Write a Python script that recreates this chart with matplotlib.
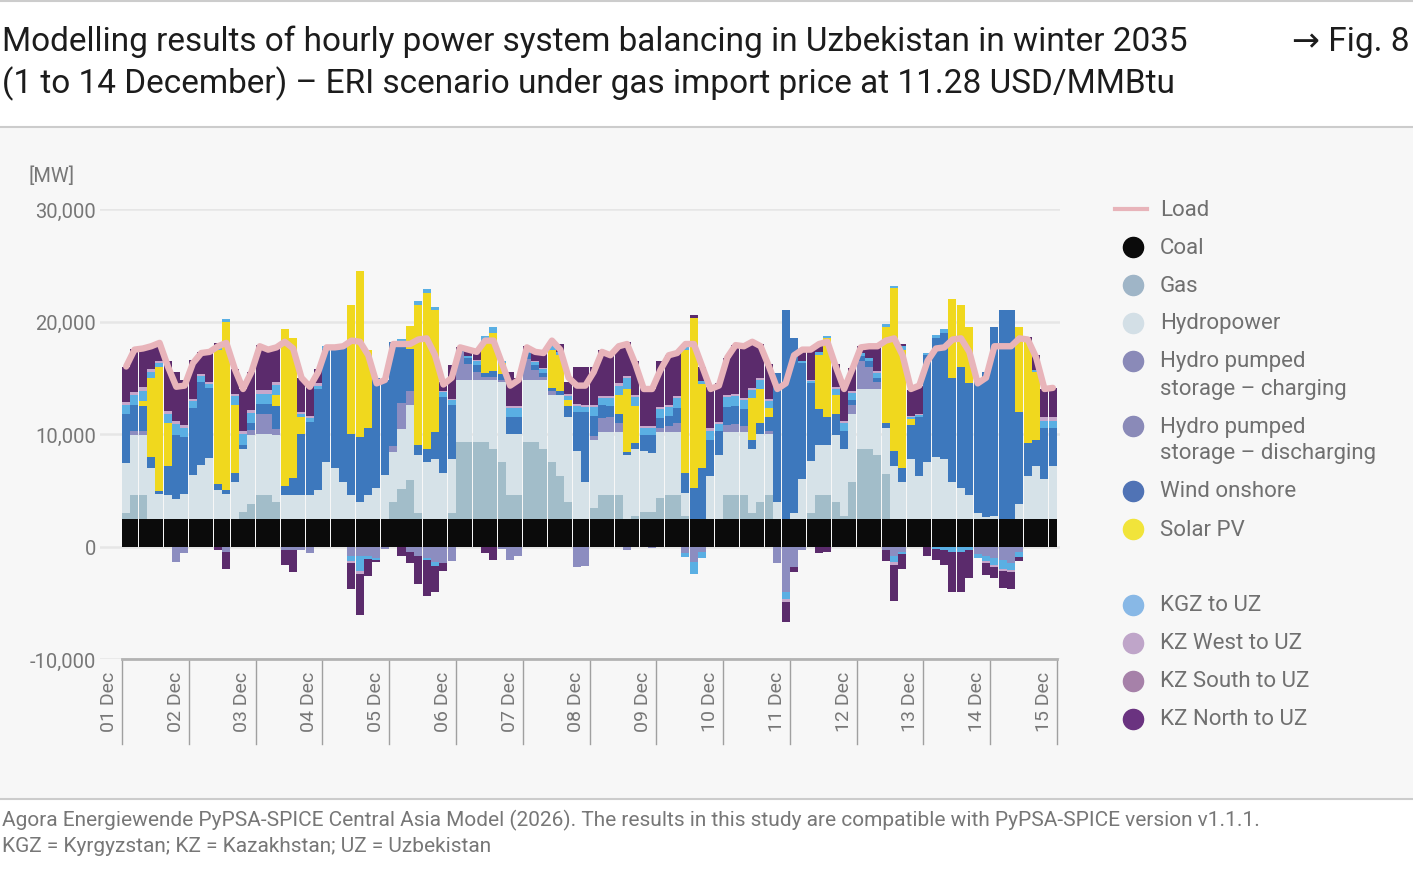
import numpy as np
import matplotlib.pyplot as plt
from matplotlib.lines import Line2D
from matplotlib.patches import Rectangle

plt.rcParams['font.family'] = ['Roboto', 'DejaVu Sans']

# Values at 3-hour steps (8 per day, 01-14 Dec), in GW (x1000 = MW)
coal_gw = 2.45

gas = [0.5, 2.1, 2.1, 0, 0, 0, 0, 0,
       0, 0, 0, 0, 0, 0, 0.6, 1.3,
       2.1, 2.1, 1.5, 0, 0, 0, 0, 0,
       0, 0, 0, 0, 0, 0, 0, 0,
       1.5, 2.7, 3.5, 0.5, 0, 0, 0, 0.5,
       6.85, 6.85, 6.85, 6.85, 6.25, 5.05, 2.15, 2.15,
       6.85, 6.85, 6.25, 5.05, 3.85, 1.5, 0, 0,
       1.0, 2.15, 2.15, 2.15, 0, 0.3, 0.6, 0.6,
       1.85, 2.15, 2.15, 0.3, 0, 0, 0, 0,
       2.15, 2.15, 2.15, 0.5, 1.5, 2.15, 0, 0,
       0, 0, 0.5, 2.15, 2.15, 1.5, 0.3, 3.3,
       6.25, 6.25, 5.65, 4.0, 0, 0, 0, 0,
       0, 0, 0, 0, 0, 0, 0, 0,
       0, 0, 0, 0, 0, 0, 0, 0]

hydro = [4.5, 5.4, 5.4, 4.5, 2.25, 2.1, 1.8, 2.25,
         3.9, 4.8, 5.4, 2.55, 2.25, 3.3, 5.65, 6.15,
         5.45, 5.45, 6.0, 2.15, 2.15, 2.15, 2.15, 2.55,
         5.05, 4.5, 3.3, 2.15, 1.55, 2.15, 2.75, 3.9,
         4.45, 5.3, 6.65, 5.15, 5.05, 5.35, 4.05, 4.85,
         5.5, 5.5, 5.5, 5.5, 6.1, 7.1, 5.4, 5.4,
         5.5, 5.5, 6.1, 6.0, 7.2, 7.55, 6.05, 3.25,
         6.05, 5.6, 5.6, 5.6, 5.65, 5.95, 5.4, 5.25,
         5.9, 5.6, 5.6, 2.0, 0, 0, 3.85, 5.65,
         5.6, 5.6, 5.6, 5.75, 6.05, 5.4, 1.5, 0,
         0.5, 3.55, 4.65, 4.4, 4.4, 5.95, 5.95, 6.0,
         5.3, 5.3, 5.9, 4.05, 4.75, 3.25, 5.35, 3.85,
         5.05, 5.55, 5.35, 3.25, 2.75, 2.15, 0.5, 0.2,
         0.3, 0, 0, 1.3, 3.85, 4.75, 3.55, 4.75]

ps_discharge = [0, 0.3, 0.3, 0, 0, 0, 0, 0,
                0, 0, 0, 0, 0, 0, 0, 0.5,
                1.8, 1.8, 0.5, 0, 0, 0, 0, 0,
                0, 0, 0, 0, 0, 0, 0, 0,
                0.5, 2.3, 1.2, 0, 0, 0, 0, 0,
                2.5, 1.4, 0.7, 0.3, 0.3, 0.2, 0, 0,
                1.9, 0.9, 0.3, 0.3, 0, 0, 0, 0,
                0.3, 1.2, 1.3, 0.8, 0, 0, 0, 0,
                0.3, 0.5, 0.8, 0, 0, 0, 0, 0,
                0.6, 0.7, 0.5, 0, 0, 0.3, 0, 0,
                0, 0, 0, 0, 0, 0, 0, 0.8,
                2.5, 2.0, 0.6, 0, 0, 0, 0, 0,
                0, 0, 0, 0, 0, 0, 0, 0,
                0, 0, 0, 0, 0, 0, 0, 0]

wind = [4.3, 2.3, 2.2, 1.0, 0.2, 2.6, 5.7, 5.0,
        6.0, 7.4, 6.2, 0.6, 0.3, 0.8, 0.3, 0.6,
        0.9, 0.9, 2.0, 0.8, 1.5, 5.4, 6.5, 9.0,
        10.1, 10.7, 12.0, 5.4, 5.7, 5.9, 9.8, 8.45,
        9.3, 5.4, 3.8, 0.9, 1.2, 2.4, 6.8, 4.8,
        0.3, 0.6, 0.6, 0.3, 0.5, 0.5, 1.5, 1.5,
        0.5, 0.4, 0.3, 0.3, 0.3, 1.0, 3.5, 6.3,
        1.8, 1.2, 1.0, 0.8, 0.3, 0.5, 1.5, 1.6,
        0.9, 0.9, 1.3, 1.75, 2.75, 4.5, 3.2, 2.2,
        1.6, 1.6, 1.5, 0.8, 1.0, 1.2, 11.5, 18.55,
        15.55, 10.3, 6.9, 3.2, 2.5, 1.9, 1.6, 0.5,
        0.4, 0.5, 0.4, 0.5, 1.3, 1.3, 3.0, 5.2,
        9.5, 10.5, 11.2, 9.3, 10.8, 9.9, 12.05, 12.85,
        16.75, 18.55, 18.55, 8.25, 2.9, 2.3, 4.5, 3.3]

solar = [0, 0, 0.5, 7.0, 11.1, 3.8, 0, 0,
         0, 0, 0, 11.9, 15.0, 6.0, 0, 0,
         0, 0, 1.0, 13.9, 12.4, 1.5, 0, 0,
         0, 0, 0, 11.5, 14.8, 7.0, 0, 0,
         0, 0, 2.0, 12.5, 13.8, 10.8, 0, 0,
         0, 0, 0, 2.9, 3.4, 1.0, 0, 0,
         0, 0, 0, 3.4, 3.2, 0.5, 0, 0,
         0, 0, 0, 1.7, 5.6, 3.3, 0, 0,
         0, 0, 0, 11.0, 15.1, 7.5, 0, 0,
         0, 0, 0, 3.7, 3.0, 0.8, 0, 0,
         0, 0, 0, 4.8, 7.0, 1.7, 0, 0,
         0, 0, 0, 8.5, 14.5, 10.5, 0.5, 0,
         0, 0, 0, 7.0, 5.5, 5.0, 0, 0,
         0, 0, 0, 7.5, 9.0, 6.0, 0, 0]

kgz_in = [0.8, 0.9, 0.9, 0.6, 0.3, 0.8, 0.9, 0.8,
          0.6, 0.5, 0.4, 0.3, 0.2, 0.8, 1.0, 0.9,
          0.9, 0.9, 0.9, 0, 0, 0.3, 0.3, 0.3,
          0.2, 0.1, 0, 0, 0, 0, 0, 0,
          0, 0.3, 0, 0.3, 0.4, 0.3, 0.4, 0.4,
          0, 0.1, 0.4, 0.4, 0.5, 0.2, 0.8, 0.8,
          0.2, 0.3, 0.4, 0.3, 0.3, 0.4, 0.5, 0.4,
          0.8, 0.6, 0.7, 0.8, 1.0, 0.8, 0.6, 0.6,
          0.8, 0.8, 0.9, 0.3, 0, 0.3, 0.8, 0.6,
          0.9, 0.9, 0.8, 0.7, 0.8, 0.6, 0, 0,
          0, 0.2, 0.2, 0.3, 0.2, 0.5, 0.7, 0.6,
          0.3, 0.3, 0.4, 0.3, 0.2, 0.3, 0.2, 0.2,
          0.2, 0.3, 0.3, 0, 0, 0, 0, 0,
          0, 0, 0, 0, 0, 0.2, 0.7, 0.7]

kzw_in = [0.3, 0.3, 0.3, 0.2, 0.2, 0.3, 0.3, 0.3,
          0.2, 0.2, 0.2, 0.1, 0, 0.2, 0.3, 0.2,
          0.3, 0.3, 0.3, 0, 0, 0.2, 0.2, 0.2,
          0, 0, 0, 0, 0, 0, 0, 0,
          0, 0, 0, 0, 0, 0, 0.1, 0.1,
          0, 0, 0.1, 0, 0, 0, 0.2, 0.2,
          0, 0.1, 0.1, 0, 0, 0.2, 0.2, 0.2,
          0.2, 0.2, 0.2, 0.2, 0.2, 0.2, 0.2, 0.2,
          0.2, 0.2, 0.2, 0, 0, 0, 0.2, 0.2,
          0.2, 0.2, 0.2, 0.2, 0.2, 0.2, 0, 0,
          0, 0, 0.1, 0, 0, 0.2, 0.2, 0.2,
          0, 0, 0.2, 0, 0, 0, 0.1, 0.1,
          0, 0, 0, 0, 0, 0, 0, 0,
          0, 0, 0, 0, 0, 0, 0.3, 0.3]

kzn_in = [3.1, 3.8, 3.45, 2.1, 1.5, 4.4, 4.4, 4.0,
          3.4, 1.9, 2.7, 0.2, 0, 2.2, 3.7, 3.4,
          4.0, 3.6, 3.0, 0, 0, 3.0, 2.7, 1.3,
          0, 0, 0, 0, 0, 0, 0, 0,
          0, 0, 0, 0, 0, 0, 0.8, 3.0,
          0.1, 0.7, 0.9, 0, 0, 0, 3.0, 2.5,
          0.4, 1.0, 1.4, 0.5, 0.7, 1.0, 3.3, 3.4,
          3.4, 4.1, 3.6, 3.3, 3.0, 3.0, 3.4, 3.3,
          4.1, 4.4, 3.8, 0.2, 0.3, 1.25, 3.7, 3.4,
          3.3, 4.3, 4.6, 3.9, 3.0, 3.1, 0, 0,
          0, 1.0, 2.7, 0.6, 0, 2.0, 3.0, 2.0,
          0.6, 0.9, 2.2, 0, 0, 0.2, 2.3, 2.5,
          0, 0, 0, 0, 0, 0, 0, 0,
          0, 0, 0, 0, 0.4, 1.3, 2.5, 2.6]

# exports / pumping (negative side)
ps_charge = [0, 0, 0, 0, 0, 0, -1.4, -0.6,
             0, 0, 0, 0, -0.5, 0, 0, 0,
             0, 0, 0, -0.3, -0.3, -0.3, -0.6, 0,
             0, 0, 0, -0.8, -0.8, -0.8, -1.0, -0.2,
             0, 0, -0.5, -0.8, -1.0, -1.4, -1.5, -1.3,
             0, 0, 0, 0, 0, -0.2, -1.2, -0.8,
             0, 0, 0, 0, 0, 0, -1.8, -1.7,
             0, 0, 0, 0, -0.3, 0, 0, -0.1,
             0, 0, 0, -0.6, -1.4, -0.5, 0, 0,
             0, 0, 0, 0, 0, 0, -1.5, -4.0,
             -1.8, -0.3, 0, 0, 0, 0, 0, 0,
             0, 0, 0, -0.3, -0.8, -0.5, 0, 0,
             0, 0, 0, 0, 0, 0, -0.7, -0.8,
             -1.0, -1.2, -1.5, -0.5, 0, 0, 0, 0]

kgz_out = [0, 0, 0, 0, 0, 0, 0, 0,
           0, 0, 0, 0, 0, 0, 0, 0,
           0, 0, 0, 0, 0, 0, 0, 0,
           0, 0, 0, -0.5, -1.4, -0.3, -0.2, 0,
           0, 0, 0, 0, -0.2, -0.3, 0, 0,
           0, 0, 0, 0, 0, 0, 0, 0,
           0, 0, 0, 0, 0, 0, 0, 0,
           0, 0, 0, 0, 0, 0, 0, 0,
           0, 0, 0, -0.3, -1.0, -0.5, 0, 0,
           0, 0, 0, 0, 0, 0, 0, -0.7,
           0, 0, 0, 0, 0, 0, 0, 0,
           0, 0, 0, 0, -0.6, -0.2, 0, 0,
           0, -0.2, -0.3, -0.5, -0.5, -0.3, -0.3, -0.5,
           -0.6, -0.8, -0.6, -0.4, 0, 0, 0, 0]

kzw_out = [0, 0, 0, 0, 0, 0, 0, 0,
           0, 0, 0, 0, 0, 0, 0, 0,
           0, 0, 0, 0, 0, 0, 0, 0,
           0, 0, 0, -0.2, -0.2, 0, 0, 0,
           0, 0, 0, 0, 0, 0, 0, 0,
           0, 0, 0, 0, 0, 0, 0, 0,
           0, 0, 0, 0, 0, 0, 0, 0,
           0, 0, 0, 0, 0, 0, 0, 0,
           0, 0, 0, 0, 0, 0, 0, 0,
           0, 0, 0, 0, 0, 0, 0, -0.2,
           0, 0, 0, 0, 0, 0, 0, 0,
           0, 0, 0, 0, -0.2, 0, 0, 0,
           0, 0, 0, 0, 0, 0, 0, -0.2,
           -0.2, -0.2, -0.2, 0, 0, 0, 0, 0]

kzn_out = [0, 0, 0, 0, 0, 0, 0, 0,
           0, 0, 0, -0.3, -1.5, 0, 0, 0,
           0, 0, 0, -1.3, -2.0, 0, 0, 0,
           0, 0, 0, -2.3, -3.7, -1.5, -0.2, 0,
           0, -0.8, -1.0, -2.5, -3.2, -2.3, -0.7, 0,
           0, 0, 0, -0.6, -1.2, 0, 0, 0,
           0, 0, 0, 0, 0, 0, 0, 0,
           0, 0, 0, 0, 0, 0, 0, 0,
           0, 0, 0, 0, 0, 0, 0, 0,
           0, 0, 0, 0, 0, 0, 0, -1.8,
           -0.5, 0, 0, -0.6, -0.5, 0, 0, 0,
           0, 0, 0, -1.0, -3.2, -1.3, 0, 0,
           -0.8, -1.0, -1.3, -3.5, -3.5, -2.5, 0, -1.0,
           -1.0, -1.5, -1.5, -0.4, 0, 0, 0, 0]

load = [16.0, 17.5, 17.6, 17.8, 18.1, 16.0, 14.2, 14.3,
        16.3, 17.2, 17.3, 17.8, 18.1, 15.8, 14.0, 15.5,
        17.8, 17.5, 17.7, 18.2, 17.6, 15.0, 14.2, 15.5,
        17.7, 17.7, 17.8, 18.3, 18.2, 17.0, 14.5, 14.8,
        18.0, 18.0, 18.0, 18.4, 18.5, 17.0, 14.4, 15.0,
        17.7, 17.5, 17.3, 18.3, 18.3, 16.3, 14.3, 14.8,
        17.7, 17.3, 17.2, 18.3, 17.5, 15.0, 14.3, 14.3,
        15.5, 17.3, 17.0, 17.8, 18.0, 16.2, 14.0, 14.0,
        15.7, 17.0, 17.2, 18.0, 18.0, 16.0, 14.0, 14.3,
        16.8, 17.9, 17.8, 18.2, 17.8, 16.0, 14.0, 14.5,
        17.0, 17.5, 17.5, 18.0, 18.2, 16.0, 14.0, 15.8,
        17.7, 17.8, 17.8, 18.3, 18.5, 17.0, 14.0, 14.3,
        16.5, 17.6, 17.7, 18.4, 18.5, 17.3, 14.5, 15.0,
        17.8, 17.8, 17.8, 18.5, 18.4, 16.8, 14.0, 14.1]

days = ['01 Dec', '02 Dec', '03 Dec', '04 Dec', '05 Dec', '06 Dec', '07 Dec', '08 Dec',
        '09 Dec', '10 Dec', '11 Dec', '12 Dec', '13 Dec', '14 Dec', '15 Dec']

colors = {
    'Load': '#e8b4ba', 'Coal': '#0b0b0b', 'Gas': '#a2bdc9', 'Hydropower': '#d6e2e8',
    'PS': '#8c8dc0', 'Wind': '#3d78bd', 'Solar': '#f0d81e', 'KGZ': '#5aafe3',
    'KZW': '#c7a7cb', 'KZS': '#a681a9', 'KZN': '#5b2b6c',
}

n = len(load)
start = np.arange(n) * 3  # hours from 01 Dec 00:00
coal = np.full(n, coal_gw)

W, H = 1413, 870
def fx(px):
    return px / W
def fy(py):
    return 1 - py / H

fig = plt.figure(figsize=(W / 100, H / 100), dpi=100, facecolor='white')
fig.patches.append(Rectangle((0, fy(800)), 1, fy(128) - fy(800), transform=fig.transFigure,
                             facecolor='#f7f7f7', edgecolor='none', zorder=-10))
for yy in (2, 128, 800):
    fig.add_artist(Line2D([0, 1], [fy(yy)] * 2, transform=fig.transFigure, color='#cccccc', lw=1.5))

ax = fig.add_axes([fx(100), fy(660), fx(1060) - fx(100), fy(210) - fy(660)])
ax.set_zorder(1)
ax.set_facecolor('none')
px_per_h = (1057 - 122) / 336
ax.set_xlim(-22 / px_per_h, 336 + 3 / px_per_h)
ax.set_ylim(-10000, 30000)

# positive stack
pos_layers = [(coal, colors['Coal']), (gas, colors['Gas']), (hydro, colors['Hydropower']),
              (ps_discharge, colors['PS']), (wind, colors['Wind']), (solar, colors['Solar']),
              (kgz_in, colors['KGZ']), (kzw_in, colors['KZW']), (kzn_in, colors['KZN'])]
bottom = np.zeros(n)
for vals, col in pos_layers:
    v = np.asarray(vals, dtype=float) * 1000
    ax.bar(start, v, width=2.88, bottom=bottom, align='edge', color=col, linewidth=0, zorder=2)
    bottom += v

# negative stack
neg_layers = [(ps_charge, colors['PS']), (kgz_out, colors['KGZ']),
              (kzw_out, colors['KZW']), (kzn_out, colors['KZN'])]
nbottom = np.zeros(n)
for vals, col in neg_layers:
    v = np.asarray(vals, dtype=float) * 1000
    ax.bar(start, v, width=2.88, bottom=nbottom, align='edge', color=col, linewidth=0, zorder=2)
    nbottom += v

ax.plot(start + 1.5, np.asarray(load) * 1000, color=colors['Load'], lw=4.6,
        solid_joinstyle='round', solid_capstyle='round', zorder=5)

# axes styling
for s in ax.spines.values():
    s.set_visible(False)
yt = [-10000, 0, 10000, 20000, 30000]
ax.set_yticks(yt)
ax.set_yticklabels([f'{v:,}' for v in yt])
ax.tick_params(axis='y', length=0, pad=3, labelsize=14.5, labelcolor='#777777')
ax.set_xticks([])
ax.yaxis.grid(True, color='#e6e6e6', lw=1.8, zorder=0)
ax.set_axisbelow(True)

ax.plot([0, 336], [-10000, -10000], color='#b3b3b3', lw=2, clip_on=False, zorder=3)
for d, lab in enumerate(days):
    ax.plot([24 * d, 24 * d], [-10000, -17550], color='#a0a0a0', lw=1, clip_on=False)
    ax.text(24 * d - 4.7, -11070, lab, rotation=90, ha='center', va='top',
            fontsize=14, color='#777777')

fig.text(fx(28), fy(176), '[MW]', ha='left', va='center', fontsize=14.5, color='#777777')

# title and footer
fig.text(fx(2), fy(42), 'Modelling results of hourly power system balancing in Uzbekistan in winter 2035',
         ha='left', va='center', fontsize=24, color='#1c1c1c')
fig.text(fx(2), fy(84), '(1 to 14 December) – ERI scenario under gas import price at 11.28 USD/MMBtu',
         ha='left', va='center', fontsize=24, color='#1c1c1c')
fig.text(fx(1410), fy(42), '→ Fig. 8', ha='right', va='center', fontsize=24, color='#1c1c1c')
fig.text(fx(2), fy(820), 'Agora Energiewende PyPSA-SPICE Central Asia Model (2026). The results in this '
         'study are compatible with PyPSA-SPICE version v1.1.1.',
         ha='left', va='center', fontsize=15, color='#777777')
fig.text(fx(2), fy(847), 'KGZ = Kyrgyzstan; KZ = Kazakhstan; UZ = Uzbekistan',
         ha='left', va='center', fontsize=15, color='#777777')

# legend
legend = [('line', colors['Load'], ['Load'], 210),
          ('dot', colors['Coal'], ['Coal'], 248),
          ('dot', '#9fb5c7', ['Gas'], 286),
          ('dot', '#d3dfe6', ['Hydropower'], 324),
          ('dot', '#8a8ab8', ['Hydro pumped', 'storage – charging'], 362),
          ('dot', '#8a8ab8', ['Hydro pumped', 'storage – discharging'], 427),
          ('dot', '#5073b5', ['Wind onshore'], 492),
          ('dot', '#f1e43a', ['Solar PV'], 530),
          ('dot', '#88b8e6', ['KGZ to UZ'], 606),
          ('dot', '#bfa5c9', ['KZ West to UZ'], 644),
          ('dot', colors['KZS'], ['KZ South to UZ'], 682),
          ('dot', '#6a3380', ['KZ North to UZ'], 720)]
for kind, col, lines, yy in legend:
    if kind == 'line':
        fig.add_artist(Line2D([fx(1115), fx(1147)], [fy(yy)] * 2, transform=fig.transFigure,
                              color=col, lw=3))
    else:
        fig.add_artist(Line2D([fx(1133)], [fy(yy)], transform=fig.transFigure, marker='o',
                              markersize=14.5, color=col, linestyle='none'))
    for i, t in enumerate(lines):
        fig.text(fx(1160), fy(yy + 27 * i), t, ha='left', va='center', fontsize=16, color='#707070')

fig.savefig('out.png', dpi=100)
